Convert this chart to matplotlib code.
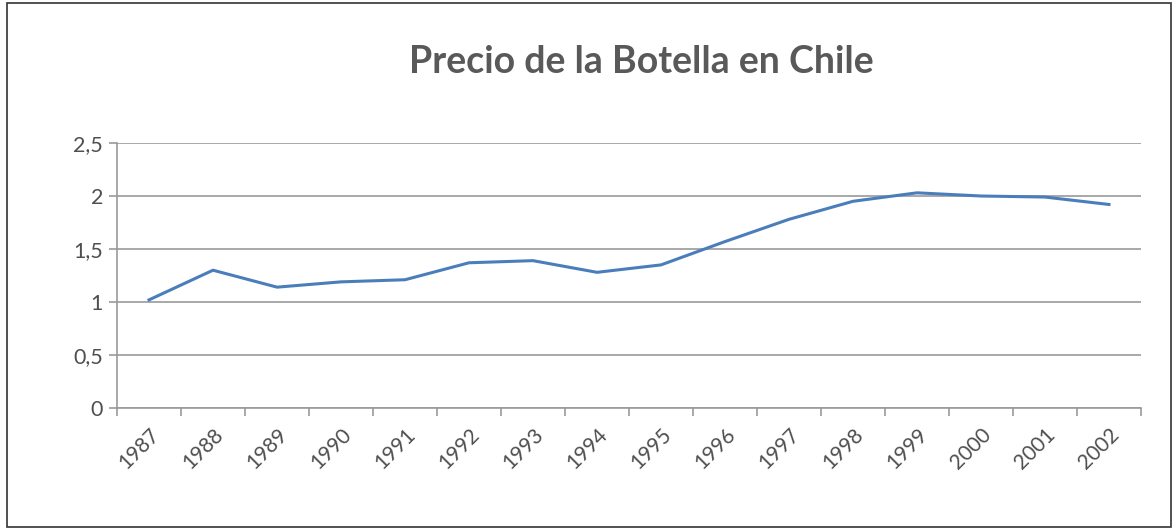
import numpy as np
import matplotlib.pyplot as plt
from matplotlib.patches import Rectangle

years = ['1987', '1988', '1989', '1990', '1991', '1992', '1993', '1994',
         '1995', '1996', '1997', '1998', '1999', '2000', '2001', '2002']
precio = [1.02, 1.30, 1.14, 1.19, 1.21, 1.37, 1.39, 1.28,
          1.35, 1.57, 1.78, 1.95, 2.03, 2.00, 1.99, 1.92]
yticks = [0, 0.5, 1, 1.5, 2, 2.5]
ytick_labels = ['0', '0,5', '1', '1,5', '2', '2,5']

plt.rcParams['font.family'] = ['Lato', 'DejaVu Sans']
txt = '#4f4f4f'
grid = '#9a9a9a'

fig = plt.figure(figsize=(11.75, 5.29), dpi=100)
ax = fig.add_axes([117 / 1175, 121 / 529, 1024 / 1175, 265 / 529])

x = np.arange(len(years))
ax.plot(x, precio, color='#4a7ebb', linewidth=2.2, solid_joinstyle='round')

ax.set_xlim(-0.5, len(years) - 0.5)
ax.set_ylim(0, 2.5)
ax.set_yticks(yticks)
ax.set_yticklabels(ytick_labels)
ax.yaxis.grid(True, color=grid, linewidth=1.2)
ax.set_axisbelow(True)

ax.set_xticks(x)
ax.set_xticklabels(years, rotation=45, ha='right', rotation_mode='anchor')
ax.set_xticks(np.arange(len(years) + 1) - 0.5, minor=True)
ax.tick_params(axis='x', which='major', length=0, pad=12, labelsize=15, labelcolor=txt)
ax.tick_params(axis='x', which='minor', length=6, color=grid, width=1.2)
ax.tick_params(axis='y', length=6, color=grid, width=1.2, labelsize=15.5, labelcolor=txt, pad=4)

for side in ['top', 'right']:
    ax.spines[side].set_visible(False)
for side in ['left', 'bottom']:
    ax.spines[side].set_color(grid)
    ax.spines[side].set_linewidth(1.2)

fig.text(0.546, 0.883, 'Precio de la Botella en Chile', ha='center', va='center',
         fontsize=27, color='#595959', fontweight='bold')

fig.patches.append(Rectangle((7 / 1175, 2 / 529), 1164 / 1175, 524 / 529,
                             transform=fig.transFigure, fill=False,
                             edgecolor='#333333', linewidth=1.2))

fig.savefig('out.png', dpi=100)
